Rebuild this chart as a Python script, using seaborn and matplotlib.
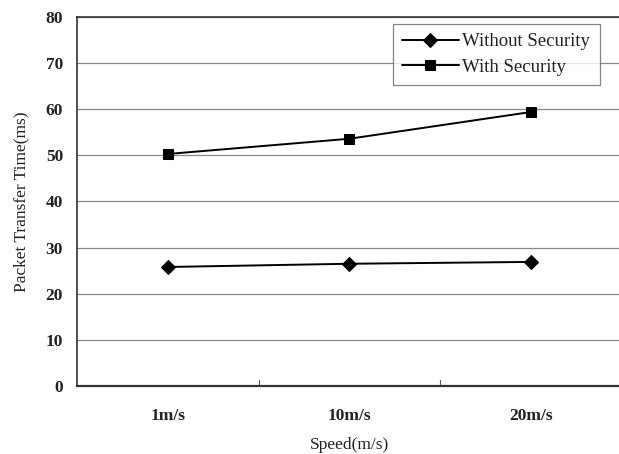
import matplotlib
matplotlib.use("Agg")
import matplotlib.pyplot as plt
import seaborn as sns
import pandas as pd

speeds = ["1m/s", "10m/s", "20m/s"]
without_security = [25.8, 26.5, 26.9]
with_security = [50.3, 53.6, 59.4]
series_names = ["Without Security", "With Security"]
y_ticks = [0, 10, 20, 30, 40, 50, 60, 70, 80]

df = pd.DataFrame({
    "Speed": speeds * 2,
    "Time": without_security + with_security,
    "Series": [series_names[0]] * 3 + [series_names[1]] * 3,
})

sns.set_style("white")
plt.rcParams['font.family'] = ['Liberation Serif', 'DejaVu Serif']

fig = plt.figure(figsize=(6.19, 4.54), dpi=100)
ax = fig.add_axes([0.1244, 0.1498, 0.880, 0.8128])

sns.lineplot(data=df, x="Speed", y="Time", hue="Series", style="Series",
             palette={series_names[0]: "black", series_names[1]: "black"},
             markers={series_names[0]: "D", series_names[1]: "s"},
             dashes=False, markersize=7, linewidth=1.4, ax=ax,
             markeredgecolor="black")

ax.set_xlim(-0.5, 2.5)
ax.set_ylim(0, 80)
ax.set_yticks(y_ticks)
ax.yaxis.grid(True, color="#888888", linewidth=0.9)
ax.xaxis.grid(False)
for s in ax.spines.values():
    s.set_color("#333333")
    s.set_linewidth(1.2)
ax.spines["bottom"].set_linewidth(1.6)

ax.tick_params(axis="y", length=0, pad=10, labelsize=12.5)
ax.tick_params(axis="x", length=0, pad=16, labelsize=12.5)
for lbl in ax.get_yticklabels() + ax.get_xticklabels():
    lbl.set_fontweight("semibold")
    lbl.set_color("#222222")

ax.set_xlabel("Speed(m/s)", fontsize=12.5, labelpad=9, color="#222222")
ax.set_ylabel("Packet Transfer Time(ms)", fontsize=12.5, labelpad=12, color="#222222")

# category separators ticks on x axis
for xv in [0.5, 1.5]:
    ax.plot([xv, xv], [0, 1.2], color="#555555", linewidth=0.8)

leg = ax.legend(loc="upper left", bbox_to_anchor=(0.58, 0.981), frameon=True,
                fancybox=False, fontsize=13.5, handlelength=3.0, borderpad=0.5,
                labelspacing=0.45, handletextpad=0.2, borderaxespad=0)
leg.get_frame().set_edgecolor("#666666")
leg.get_frame().set_linewidth(0.9)
for t in leg.get_texts():
    t.set_color("#222222")

fig.savefig("out.png", dpi=100)
